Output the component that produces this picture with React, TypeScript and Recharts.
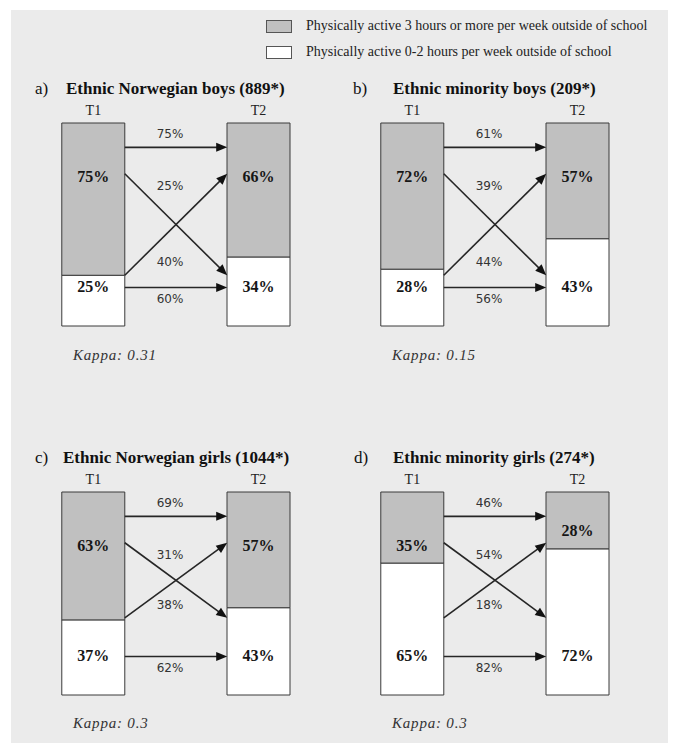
import { Bar, BarChart, LabelList, ReferenceLine, XAxis, YAxis } from "recharts";

const panelLetters = ["a)", "b)", "c)", "d)"];
const groupTitles = [
  "Ethnic Norwegian boys (889*)",
  "Ethnic minority boys (209*)",
  "Ethnic Norwegian girls (1044*)",
  "Ethnic minority girls (274*)",
];
const timePoints = ["T1", "T2"];

// share (%) in each activity group at each time point
const activeT1 = [75, 72, 63, 35];
const inactiveT1 = [25, 28, 37, 65];
const activeT2 = [66, 57, 57, 28];
const inactiveT2 = [34, 43, 43, 72];

// transitions T1 -> T2 (%)
const stayedActive = [75, 61, 69, 46];
const becameInactive = [25, 39, 31, 54];
const becameActive = [40, 44, 38, 18];
const stayedInactive = [60, 56, 62, 82];

const kappaValues = ["0.31", "0.15", "0.3", "0.3"];

const legendLabels = [
  "Physically active 3 hours or more per week outside of school",
  "Physically active 0-2 hours per week outside of school",
];

const SERIF = "'Liberation Serif', 'Times New Roman', serif";
const SANS = "'DejaVu Sans', Verdana, sans-serif";
const GRAY = "#c0c0c0";
const EDGE = 0.19;

// layout per panel
const chartPos = [
  { left: 56, top: 98 },
  { left: 375, top: 98 },
  { left: 56, top: 467 },
  { left: 375, top: 467 },
];
const titlePos = [
  { letter: 35, title: 66, y: 88 },
  { letter: 353, title: 393, y: 88 },
  { letter: 35, title: 63, y: 457 },
  { letter: 354, title: 393, y: 457 },
];
const kappaPos = [
  { x: 73, y: 355 },
  { x: 392, y: 355 },
  { x: 73, y: 723 },
  { x: 392, y: 723 },
];
const crossLow = [25, 25, 38, 38];

function Txt({ x, y, children, style }: any) {
  return (
    <div
      style={{
        position: "absolute",
        left: x,
        top: y,
        transform: "translateY(-50%)",
        lineHeight: 1,
        whiteSpace: "nowrap",
        ...style,
      }}
    >
      {children}
    </div>
  );
}

function Arrow(props: any) {
  const { x1, y1, x2, y2, text, dy } = props;
  const ang = Math.atan2(y2 - y1, x2 - x1);
  const len = 11;
  const half = 4.5;
  const bx = x2 - len * Math.cos(ang);
  const by = y2 - len * Math.sin(ang);
  const s = Math.sin(ang);
  const c = Math.cos(ang);
  const pts = `${x2},${y2} ${bx - half * s},${by + half * c} ${bx + half * s},${by - half * c}`;
  return (
    <g>
      <line x1={x1} y1={y1} x2={bx + 2 * c} y2={by + 2 * s} stroke="#262626" strokeWidth={1.6} />
      <polygon points={pts} fill="#111" />
      <text
        x={(x1 + x2) / 2 - 6}
        y={y1 + dy}
        textAnchor="middle"
        dominantBaseline="central"
        fontFamily={SANS}
        fontSize={12}
        fill="#333"
      >
        {text}
      </text>
    </g>
  );
}

const activeLabel = (p: any) => {
  const { x, y, width, height, value } = p;
  const cy = Math.min(y + 53, y + height - 18);
  return (
    <text
      x={x + width / 2}
      y={cy}
      textAnchor="middle"
      dominantBaseline="central"
      fontFamily={SERIF}
      fontWeight="bold"
      fontSize={16}
      fill="#161616"
    >
      {value}%
    </text>
  );
};

const inactiveLabel = (p: any) => {
  const { x, y, width, height, value } = p;
  return (
    <text
      x={x + width / 2}
      y={y + height - 40}
      textAnchor="middle"
      dominantBaseline="central"
      fontFamily={SERIF}
      fontWeight="bold"
      fontSize={16}
      fill="#161616"
    >
      {value}%
    </text>
  );
};

function Panel({ i }: { i: number }) {
  const data = timePoints.map((t, k) => ({
    x: k,
    time: t,
    inactive: k === 0 ? inactiveT1[i] : inactiveT2[i],
    active: k === 0 ? activeT1[i] : activeT2[i],
  }));
  const arrows = [
    { from: 88, to: 88, text: stayedActive[i], dy: -13 },
    { from: 75, to: crossLow[i], text: becameInactive[i], dy: 12 },
    { from: crossLow[i], to: 75, text: becameActive[i], dy: -13 },
    { from: 19, to: 19, text: stayedInactive[i], dy: 12 },
  ];
  return (
    <div style={{ position: "absolute", left: chartPos[i].left, top: chartPos[i].top }}>
      <BarChart
        width={240}
        height={234}
        data={data}
        margin={{ top: 0, right: 6, bottom: 6, left: 6 }}
      >
        <XAxis
          type="number"
          dataKey="x"
          orientation="top"
          domain={[-EDGE, 1 + EDGE]}
          ticks={[0, 1]}
          interval={0}
          tickFormatter={(v) => timePoints[v]}
          axisLine={false}
          tickLine={false}
          height={25}
          tick={{ fontSize: 14, fill: "#222", fontFamily: SERIF }}
        />
        <YAxis hide domain={[0, 100]} />
        <Bar
          dataKey="inactive"
          stackId="s"
          fill="#ffffff"
          stroke="#3a3a3a"
          barSize={63}
          isAnimationActive={false}
        >
          <LabelList dataKey="inactive" content={inactiveLabel} />
        </Bar>
        <Bar
          dataKey="active"
          stackId="s"
          fill={GRAY}
          stroke="#3a3a3a"
          barSize={63}
          isAnimationActive={false}
        >
          <LabelList dataKey="active" content={activeLabel} />
        </Bar>
        {arrows.map((a, k) => (
          <ReferenceLine
            key={k}
            segment={[
              { x: EDGE, y: a.from },
              { x: 1 - EDGE, y: a.to },
            ]}
            shape={(p: any) => <Arrow {...p} text={`${a.text}%`} dy={a.dy} />}
          />
        ))}
      </BarChart>
    </div>
  );
}

export default function App() {
  return (
    <div
      style={{
        position: "absolute",
        left: 0,
        top: 0,
        width: 685,
        height: 756,
        background: "#fff",
        fontFamily: SERIF,
      }}
    >
      <div
        style={{
          position: "absolute",
          left: 11,
          top: 10,
          width: 657,
          height: 733,
          background: "#ebebeb",
        }}
      />
      {legendLabels.map((label, k) => (
        <div key={label}>
          <div
            style={{
              position: "absolute",
              left: 266,
              top: 20 + k * 26,
              width: 24,
              height: 11,
              background: k === 0 ? GRAY : "#fff",
              border: "1px solid #555",
            }}
          />
          <Txt x={306} y={26 + k * 26} style={{ fontSize: 14, color: "#222" }}>
            {label}
          </Txt>
        </div>
      ))}
      {groupTitles.map((title, i) => (
        <div key={title}>
          <Txt x={titlePos[i].letter} y={titlePos[i].y} style={{ fontSize: 17, color: "#111" }}>
            {panelLetters[i]}
          </Txt>
          <Txt
            x={titlePos[i].title}
            y={titlePos[i].y}
            style={{ fontSize: 17, fontWeight: "bold", color: "#111" }}
          >
            {title}
          </Txt>
          <Txt
            x={kappaPos[i].x}
            y={kappaPos[i].y}
            style={{ fontSize: 15, fontStyle: "italic", color: "#333", letterSpacing: 0.8 }}
          >
            Kappa: {kappaValues[i]}
          </Txt>
          <Panel i={i} />
        </div>
      ))}
    </div>
  );
}
